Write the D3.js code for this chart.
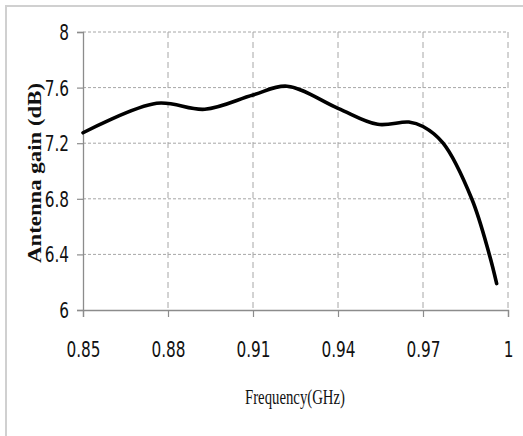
<!DOCTYPE html>
<html><head><meta charset="utf-8">
<script src="https://cdn.jsdelivr.net/npm/d3@7"></script>
<style>
body{margin:0;background:#fff;}
svg{display:block;}
</style></head>
<body><svg id="c" width="523" height="436"></svg>
<script>
const freq = [0.85, 0.876, 0.893, 0.91, 0.922, 0.94, 0.954, 0.965, 0.97, 0.9771, 0.9872, 0.9934, 0.996];
const gain = [7.275, 7.487, 7.444, 7.547, 7.61, 7.451, 7.336, 7.352, 7.32, 7.20, 6.80, 6.40, 6.19];
const xTicks = [0.85, 0.88, 0.91, 0.94, 0.97, 1];
const yTicks = [6, 6.4, 6.8, 7.2, 7.6, 8];
const xLabel = "Frequency(GHz)";
const yLabel = "Antenna gain (dB)";

const svg = d3.select("#c");
const x = d3.scaleLinear().domain([0.85, 1]).range([83, 508]);
const y = d3.scaleLinear().domain([6, 8]).range([310, 32]);

// frame
svg.append("rect").attr("x",6).attr("y",6).attr("width",540).attr("height",460)
  .attr("fill","none").attr("stroke","#d0d0d0").attr("stroke-width",2);

// grid
svg.append("g").selectAll("line").data(yTicks.filter(d=>d>6)).join("line")
  .attr("x1",x(0.85)).attr("x2",x(1)).attr("y1",d=>y(d)).attr("y2",d=>y(d))
  .attr("stroke","#a6a6a6").attr("stroke-width",1).attr("stroke-dasharray","3,2");
svg.append("g").selectAll("line").data(xTicks.filter(d=>d>0.85)).join("line")
  .attr("x1",d=>x(d)).attr("x2",d=>x(d)).attr("y1",y(8)).attr("y2",y(6))
  .attr("stroke","#a6a6a6").attr("stroke-width",1).attr("stroke-dasharray","6,4");

const tickFont = "'Liberation Sans Narrow','DejaVu Sans Condensed',sans-serif";
const sx = 0.83;
// axes
const gx = svg.append("g").attr("transform",`translate(0,${y(6)})`)
  .call(d3.axisBottom(x).tickValues(xTicks).tickSize(7).tickPadding(0).tickFormat(d=>d===1?"1":d3.format(".2f")(d)));
const gy = svg.append("g").attr("transform",`translate(${x(0.85)},0)`)
  .call(d3.axisLeft(y).tickValues(yTicks).tickSize(6).tickPadding(0).tickFormat(d=>d3.format("")(d)));
[gx,gy].forEach(g=>{
  g.select(".domain").attr("stroke","#8c8c8c").attr("stroke-width",1.3);
  g.selectAll(".tick line").attr("stroke","#8c8c8c").attr("stroke-width",1.2);
  g.selectAll(".tick text").attr("font-family",tickFont).attr("font-size",20.5).attr("fill","#111");
});
gx.selectAll(".tick text").attr("y",47).attr("dy",0).attr("transform",`scale(${sx},1)`);
gy.selectAll(".tick text").attr("x",-14/sx).attr("dy",0).attr("y",7.5).attr("transform",`scale(${sx},1)`);

// line
const pts = freq.map((f,i)=>[f,gain[i]]);
svg.append("path").datum(pts)
  .attr("d", d3.line().x(d=>x(d[0])).y(d=>y(d[1])).curve(d3.curveCatmullRom.alpha(0.5)))
  .attr("fill","none").attr("stroke","#000").attr("stroke-width",3.6).attr("stroke-linecap","round");

// titles
svg.append("text").attr("x",295).attr("y",404).attr("text-anchor","middle")
  .attr("font-family","'Liberation Serif','Times New Roman',serif").attr("font-size",21)
  .attr("fill","#111").attr("textLength",100).attr("lengthAdjust","spacingAndGlyphs").text(xLabel);
svg.append("text").attr("transform","translate(41,173) rotate(-90)").attr("text-anchor","middle")
  .attr("font-family","'Liberation Serif','Times New Roman',serif").attr("font-weight","bold").attr("font-size",18)
  .attr("fill","#111").attr("textLength",180).attr("lengthAdjust","spacingAndGlyphs").text(yLabel);
</script></body></html>
